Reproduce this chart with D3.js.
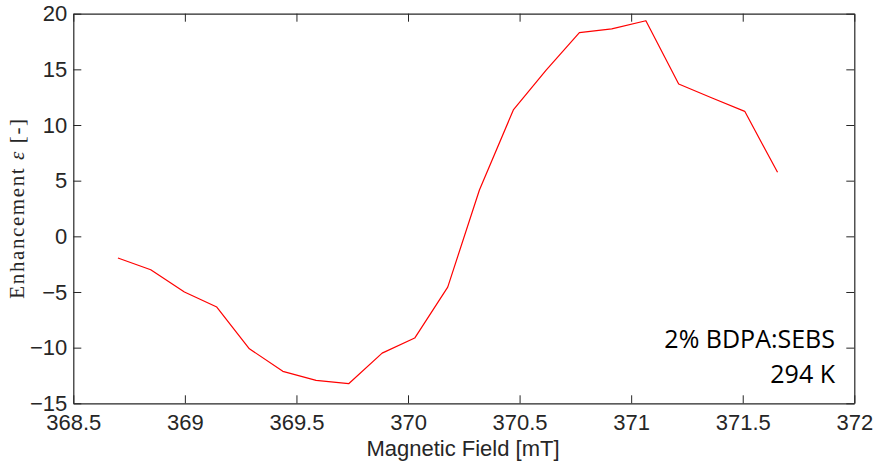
<!DOCTYPE html>
<html>
<head>
<meta charset="utf-8">
<script src="https://cdn.jsdelivr.net/npm/d3@7"></script>
<style>
  body { margin: 0; background: #fff; }
  svg { display: block; }
</style>
</head>
<body>
<div class="canvas"></div>
<script>
// Field values (mT) and enhancement
const field = [368.70, 368.847, 368.998, 369.143, 369.289, 369.439, 369.588, 369.734,
  369.884, 370.03, 370.178, 370.32, 370.472, 370.619, 370.768, 370.913, 371.066,
  371.213, 371.36, 371.509, 371.656];
const enhancement = [-1.95, -3.0, -5.0, -6.35, -10.1, -12.13, -12.94, -13.24,
  -10.49, -9.14, -4.56, 4.16, 11.35, 14.94, 18.3, 18.63, 19.37,
  13.68, 12.45, 11.23, 5.75];

const xTicks = [368.5, 369, 369.5, 370, 370.5, 371, 371.5, 372];
const yTicks = [-15, -10, -5, 0, 5, 10, 15, 20];
const annotation = ['2% BDPA:SEBS', '294 K'];

// Layout
const svgWidth = 874;
const svgHeight = 466;
const margins = {left: 73.3, top: 13.7, right: 874 - 854.3, bottom: 466 - 403.3};
const width = svgWidth - margins.left - margins.right;
const height = svgHeight - margins.top - margins.bottom;
const tickLen = 8;
const axisColor = '#262626';
const tickFont = '"Liberation Sans", Arial, sans-serif';

const svg = d3.select('.canvas').append('svg')
  .attr('width', svgWidth)
  .attr('height', svgHeight);

const g = svg.append('g')
  .attr('transform', `translate(${margins.left},${margins.top})`);

// Scales
const xScale = d3.scaleLinear().domain([368.5, 372]).range([0, width]);
const yScale = d3.scaleLinear().domain([-15, 20]).range([height, 0]);

// Axes with inward ticks (bottom/left labelled, top/right mirrored)
function styleAxis(sel) {
  sel.select('.domain').attr('stroke', axisColor).attr('stroke-width', 1.2);
  sel.selectAll('.tick line').attr('stroke', axisColor).attr('stroke-width', 1);
  sel.selectAll('.tick text')
    .attr('fill', '#262626')
    .style('font-family', tickFont)
    .style('font-size', '22px');
}

g.append('g')
  .attr('transform', `translate(0,${height})`)
  .call(d3.axisBottom(xScale).tickValues(xTicks).tickSizeInner(-tickLen).tickSizeOuter(0)
    .tickPadding(11).tickFormat(d3.format('')))
  .call(styleAxis);

g.append('g')
  .call(d3.axisTop(xScale).tickValues(xTicks).tickSizeInner(-tickLen).tickSizeOuter(0)
    .tickFormat(''))
  .call(styleAxis);

g.append('g')
  .call(d3.axisLeft(yScale).tickValues(yTicks).tickSizeInner(-tickLen).tickSizeOuter(0)
    .tickPadding(6))
  .call(styleAxis);

g.append('g')
  .attr('transform', `translate(${width},0)`)
  .call(d3.axisRight(yScale).tickValues(yTicks).tickSizeInner(-tickLen).tickSizeOuter(0)
    .tickFormat(''))
  .call(styleAxis);

// Data line
const data = field.map((f, i) => ({x: f, y: enhancement[i]}));
g.append('path')
  .datum(data)
  .attr('fill', 'none')
  .attr('stroke', '#ff0000')
  .attr('stroke-width', 1.2)
  .attr('stroke-linejoin', 'round')
  .attr('d', d3.line().x(d => xScale(d.x)).y(d => yScale(d.y)));

// Axis labels
svg.append('text')
  .attr('x', 463)
  .attr('y', 456)
  .attr('text-anchor', 'middle')
  .attr('fill', '#262626')
  .style('font-family', tickFont)
  .style('font-size', '22px')
  .text('Magnetic Field [mT]');

const yLab = svg.append('text')
  .attr('transform', 'translate(24,208)rotate(-90)')
  .attr('text-anchor', 'middle')
  .attr('fill', '#262626')
  .style('font-family', '"Liberation Serif", "DejaVu Serif", serif')
  .style('font-size', '21px')
  .style('letter-spacing', '1.6px');
yLab.append('tspan').text('Enhancement ');
yLab.append('tspan').style('font-style', 'italic').text('\u03b5');
yLab.append('tspan').text(' [-]');

// Annotation
g.append('g').selectAll('text')
  .data(annotation)
  .enter()
  .append('text')
  .attr('x', 835 - margins.left)
  .attr('y', (d, i) => 348 - margins.top + i * 35)
  .attr('text-anchor', 'end')
  .attr('fill', '#000')
  .style('font-family', '"Open Sans", sans-serif')
  .style('font-size', '25px')
  .text(d => d);
</script>
</body>
</html>
